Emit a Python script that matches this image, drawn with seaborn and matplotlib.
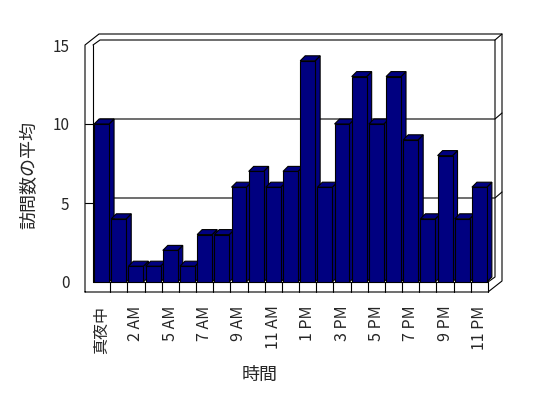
import pandas as pd
import seaborn as sns
import matplotlib.pyplot as plt
from matplotlib.patches import Polygon

hours = ['真夜中', '1 AM', '2 AM', '3 AM', '5 AM', '6 AM', '7 AM', '8 AM', '9 AM',
         '10 AM', '11 AM', '正午', '1 PM', '2 PM', '3 PM', '4 PM', '5 PM', '6 PM',
         '7 PM', '8 PM', '9 PM', '10 PM', '11 PM']
visits = [10, 4, 1, 1, 2, 1, 3, 3, 6, 7, 6, 7, 14, 6, 10, 13, 10, 13, 9, 4, 8, 4, 6]
y_ticks = [0, 5, 10, 15]

sns.set_style('white')
plt.rcParams['font.family'] = ['Noto Sans CJK JP', 'DejaVu Sans']

W, H = 548, 398
fig = plt.figure(figsize=(W / 100, H / 100), dpi=100)
fig.patch.set_facecolor('white')
ax = fig.add_axes([93 / W, 116 / H, 395 / W, 237 / H])

df = pd.DataFrame({'時間': hours, '訪問数の平均': visits})
sns.barplot(data=df, x='時間', y='訪問数の平均', color='#000080', saturation=1,
            width=0.87, edgecolor='black', linewidth=0.8, errorbar=None, ax=ax)
ax.set_xlim(-0.5, len(hours) - 0.5)
ax.set_ylim(0, 15)
for s in ax.spines.values():
    s.set_visible(False)
ax.patch.set_visible(False)

navy = '#000080'
LW = 0.8


def px(x, y, dx=0, dy=0):
    # data point moved by dx, dy screen pixels
    sx, sy = ax.transData.transform((x, y))
    return tuple(ax.transData.inverted().transform((sx + dx, sy + dy)))


def line(pts, z=1):
    xs, ys = zip(*pts)
    ax.plot(xs, ys, color='black', lw=LW, clip_on=False, zorder=z,
            solid_joinstyle='miter')


x0, x1 = -0.5, len(hours) - 0.5
y0, y1 = 0, 15
OUT = (14, 11)
IN = (7, 5)

# outer box outline
A = px(x0, y1, -8, 0)
B = px(x0, y0, -8, -10)
C = px(x1, y0, 0, -10)
line([B, A, px(x0, y1, -8 + OUT[0], OUT[1]), px(x1, y1, *OUT),
      px(x1, y0, OUT[0], -10 + OUT[1]), C, B])
# left wall front face
line([px(x0, y1), px(x0, y0)])
# back wall inner edge
line([px(x0, y1), px(x0, y1, *IN), px(x1, y1, *IN), px(x1, y0, *IN), px(x1, y0)])
line([px(x1, y1, *IN), px(x1, y1, *OUT)])
# gridlines and wall ticks
for v in y_ticks[1:-1]:
    line([px(x0, v, *IN), px(x1, v, *IN), px(x1, v, *OUT)])
    line([px(x0, v, -8, 0), px(x0, v)])
# floor front face
line([px(x0, y0), px(x1, y0)])
for k in range(1, len(hours) + 1):
    line([px(k - 0.5, y0), px(k - 0.5, y0, 0, -10)])

# 3d bar faces
D = (5, 5)
for i, p in enumerate(ax.patches):
    xl, w, h = p.get_x(), p.get_width(), p.get_height()
    xr = xl + w
    top = [(xl, h), (xr, h), px(xr, h, *D), px(xl, h, *D)]
    side = [(xr, 0), (xr, h), px(xr, h, *D), px(xr, 0, *D)]
    for poly in (side, top):
        ax.add_patch(Polygon(poly, closed=True, facecolor=navy, edgecolor='black',
                             lw=LW, zorder=2 + i * 0.01, clip_on=False))
    p.set_zorder(2 + i * 0.01 + 0.005)

ax.set_yticks(y_ticks)
ax.set_yticklabels([str(v) for v in y_ticks], fontsize=11)
ax.tick_params(axis='y', length=0, pad=17)
ax.set_xticks(range(0, len(hours), 2))
ax.set_xticklabels(hours[::2], rotation=90, fontsize=11.5)
ax.tick_params(axis='x', length=0, pad=17)

ax.set_xlabel('時間', fontsize=13)
ax.xaxis.set_label_coords(0.423, -0.355)
ax.set_ylabel('訪問数の平均', fontsize=13)
ax.yaxis.set_label_coords(-0.137, 0.45)

fig.savefig('out.png', dpi=100)
